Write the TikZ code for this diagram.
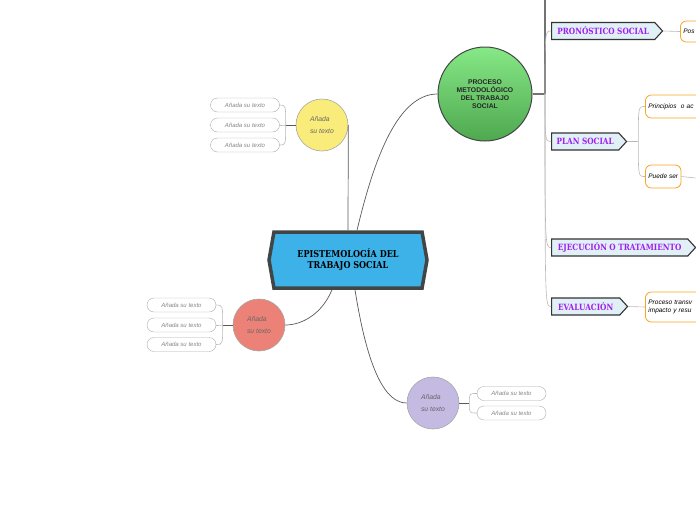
\documentclass[tikz,border=0pt]{standalone}
\usepackage{fontspec}
\setmainfont{Liberation Sans}
\newfontfamily\slabfont{DejaVu Serif}[FakeStretch=0.85]
\usetikzlibrary{positioning, shapes.symbols, calc}

\definecolor{mainblue}{HTML}{3DB2E8}
\definecolor{mainedge}{HTML}{424545}
\definecolor{greentop}{HTML}{86E886}
\definecolor{greenbot}{HTML}{4FA84F}
\definecolor{yelfill}{HTML}{FAEC7B}
\definecolor{redfill}{HTML}{EC8277}
\definecolor{purfill}{HTML}{C4BAE2}
\definecolor{stagefill}{HTML}{E1F0F7}
\definecolor{stagetext}{HTML}{A01EEE}
\definecolor{detailedge}{HTML}{F5A623}

\begin{document}
\begin{tikzpicture}[
        x=1pt, y=-1pt,
        maintopic/.style={signal, signal to=east and west, signal pointer angle=160, draw=mainedge, line width=3.5pt, fill=mainblue, minimum width=158pt, minimum height=56pt, align=center, font=\slabfont\bfseries\fontsize{9.5}{11}\selectfont},
        bigcircle/.style={circle, draw=mainedge, line width=1pt, top color=greentop, bottom color=greenbot, minimum size=94pt, inner sep=0pt, align=center, font=\bfseries\fontsize{6.8}{8}\selectfont, text=black!85},
        smallcircle/.style={circle, draw=gray!70, line width=0.6pt, minimum size=52pt, inner sep=0pt, align=left, font=\itshape\fontsize{6.8}{12}\selectfont, text=black!60},
        pill/.style={rectangle, rounded corners=7pt, draw=gray!65, fill=white, minimum width=69pt, minimum height=14pt, inner sep=1pt, font=\itshape\fontsize{6}{6.5}\selectfont, text=gray!95},
        stagebox/.style={signal, signal to=east, signal pointer angle=95, draw=black!80, line width=1.1pt, fill=stagefill, minimum height=17pt, inner sep=2pt, anchor=west, font=\slabfont\bfseries\fontsize{8.6}{9}\selectfont, text=stagetext},
        detail/.style={rectangle, rounded corners=6pt, draw=detailedge, line width=0.8pt, fill=white, anchor=west, inner sep=3pt, align=left, font=\itshape\fontsize{6.5}{8}\selectfont},
        link/.style={draw=black!65, line width=0.7pt},
        hublink/.style={draw=black!55, line width=1.2pt},
        sublink/.style={draw=gray!55, line width=0.6pt},
    ]
        \useasboundingbox (0,0) rectangle (696,520);
        \clip (0,0) rectangle (696,520);

        % Central topic
        \node[maintopic] (epis) at (348,260) {EPISTEMOLOGÍA DEL\\TRABAJO SOCIAL};

        % Main branches
        \node[bigcircle] (proc) at (485,94) {PROCESO\\METODOLÓGICO\\DEL TRABAJO\\SOCIAL};
        \node[smallcircle, fill=yelfill] (yel) at (322,125) {Añada\\su texto};
        \node[smallcircle, fill=redfill] (red) at (259,325) {Añada\\su texto};
        \node[smallcircle, fill=purfill] (pur) at (433,403) {Añada\\su texto};

        % Placeholder topics
        \node[pill] (yel1) at (245,105) {Añada su texto};
        \node[pill] (yel2) at (245,125) {Añada su texto};
        \node[pill] (yel3) at (245,145) {Añada su texto};
        \node[pill] (red1) at (181.5,305) {Añada su texto};
        \node[pill] (red2) at (181.5,325) {Añada su texto};
        \node[pill] (red3) at (181.5,344.5) {Añada su texto};
        \node[pill] (pur1) at (511.5,393.5) {Añada su texto};
        \node[pill] (pur2) at (511.5,413) {Añada su texto};

        % Stages of the process
        \coordinate (hub) at (545,94);
        \coordinate (offtop) at (545,-2);
        \node[stagebox, minimum width=111pt] (pron) at (551,31) {PRONÓSTICO SOCIAL};
        \node[stagebox, minimum width=75pt] (plan) at (551,141.5) {PLAN SOCIAL};
        \node[stagebox, minimum width=144pt] (ejec) at (551,247.5) {EJECUCIÓN O TRATAMIENTO};
        \node[stagebox, minimum width=76pt] (eval) at (551,306.5) {EVALUACIÓN};

        % Details
        \node[detail, minimum height=21pt, text width=40pt] (pos) at (680,31.5) {Pos};
        \node[detail, minimum height=23pt, text width=60pt] (princ) at (645,106.5) {Principios\ \ o ac};
        \node[detail, minimum height=23pt] (puede) at (645,176.5) {Puede ser};
        \node[draw=gray!40, anchor=west, minimum width=30pt, minimum height=36pt] (puedesub) at (695.5,178) {};
        \node[detail, minimum height=30pt, text width=60pt] (trans) at (645,307) {Proceso transv\\impacto y resu};

        % Connectors
        \draw[link] ([xshift=9pt]epis.north) .. controls (372,168) and (395,94) .. (proc.west);
        \draw[link] (epis.north) -- (yel.east);
        \draw[link] ([xshift=-16pt]epis.south) .. controls (322,314) and (302,325) .. (red.east);
        \draw[link] ([xshift=7pt]epis.south) .. controls (368,372) and (386,403) .. (pur.west);

        \draw[link] (yel.west) -- ++(-10,0) coordinate (yhub);
        \foreach \p in {yel1, yel2, yel3}
            \draw[sublink] (yhub) .. controls (yhub |- \p.east) .. (\p.east);
        \draw[link] (red.west) -- ++(-10,0) coordinate (rhub);
        \foreach \p in {red1, red2, red3}
            \draw[sublink] (rhub) .. controls (rhub |- \p.east) .. (\p.east);
        \draw[link] (pur.east) -- ++(10,0) coordinate (phub);
        \foreach \p in {pur1, pur2}
            \draw[sublink] (phub) .. controls (phub |- \p.west) .. (\p.west);

        \draw[hublink] (proc.east) -- (hub);
        \draw[hublink] (hub) -- (offtop);
        \foreach \s in {pron, plan, ejec, eval}
            \draw[sublink] (hub) .. controls (hub |- \s.west) .. (\s.west);

        \draw[sublink] (pron.east) -- (pos.west);
        \draw[sublink] (plan.east) -- ++(11,0) coordinate (planhub);
        \foreach \d in {princ, puede}
            \draw[sublink] (planhub) .. controls (planhub |- \d.west) .. (\d.west);
        \draw[sublink] (puede.east) -- (puedesub.west);
        \draw[sublink] (eval.east) -- (trans.west);
    \end{tikzpicture}
\end{document}
